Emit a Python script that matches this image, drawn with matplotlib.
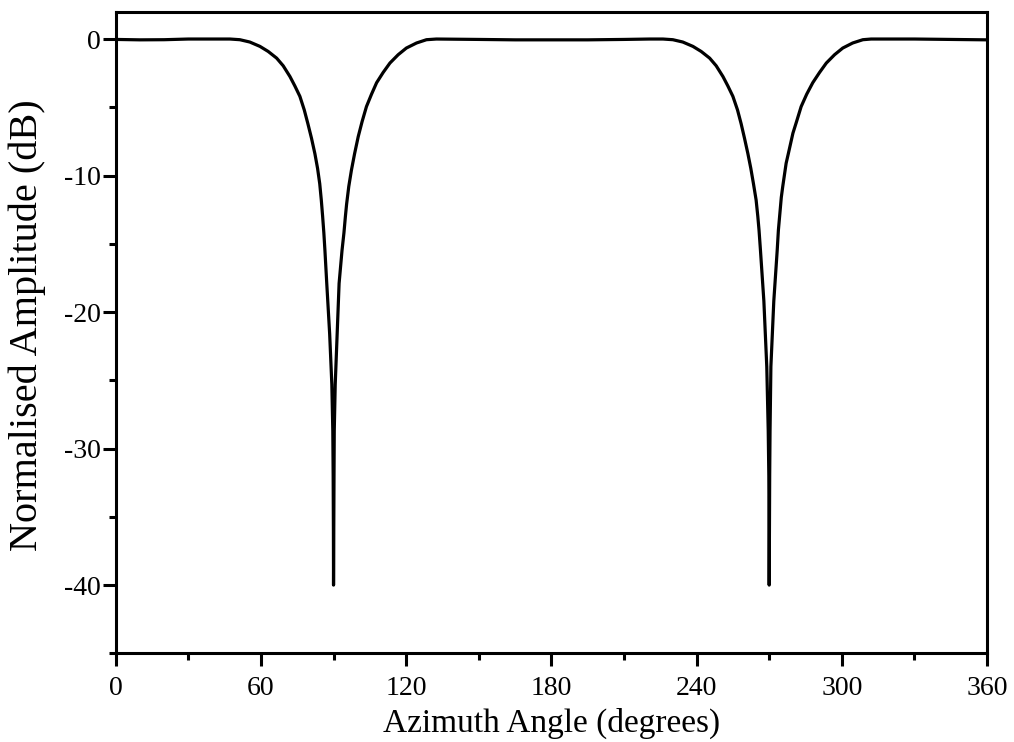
import matplotlib
matplotlib.use("Agg")
import matplotlib.pyplot as plt
from matplotlib.ticker import MultipleLocator

plt.rcParams['font.family'] = ['Liberation Serif', 'DejaVu Serif']

# Azimuth angle (degrees) and normalised amplitude (dB)
azimuth = [
    0, 10, 20, 30, 43.1, 47.2, 51.3, 55.4, 59.6, 63.0, 66.5, 69.2, 72.0, 74.0,
    76.1, 77.9, 79.4, 80.9, 82.3, 83.4, 84.3, 84.95, 85.5, 86.0, 86.45, 87.2,
    88.4, 89.3, 89.7, 89.85, 89.95, 90.0, 90.1, 90.2, 90.3, 90.7, 91.5, 92.3,
    93.5, 94.3, 94.9, 95.4, 96.3, 97.4, 98.7, 100.2, 101.8, 103.6, 105.7,
    107.8, 110.5, 113.3, 116.7, 120.1, 124.3, 128.4, 132.5, 150, 165, 180,
    195, 210,
    220.6, 226.1, 230.2, 234.3, 238.5, 241.9, 245.4, 248.1, 250.9, 252.9,
    255.0, 256.9, 258.4, 259.8, 261.2, 262.4, 263.5, 264.6, 265.3, 265.8,
    266.4, 267.8, 269.0, 269.6, 269.85, 269.95, 270.0, 270.1, 270.2, 270.35,
    270.7, 271.9, 273.3, 273.8, 274.3, 275.0, 275.6, 277.0, 277.9, 279.8,
    281.3, 283.2, 285.5, 288.0, 290.8, 293.6, 297.0, 300.4, 304.5, 308.7,
    312.1, 330, 345, 360,
]
amplitude_db = [
    -0.03, -0.06, -0.05, 0.0, 0.0, 0.0, -0.05, -0.22, -0.54, -0.91, -1.4,
    -1.96, -2.75, -3.43, -4.2, -5.19, -6.2, -7.27, -8.4, -9.47, -10.6, -11.8,
    -13.0, -14.2, -15.5, -17.9, -21.6, -25.3, -28.7, -32.0, -36.0, -40.0,
    -36.0, -32.0, -28.7, -25.3, -21.6, -17.9, -15.5, -14.2, -13.0, -12.1,
    -10.8, -9.6, -8.4, -7.15, -6.05, -4.95, -4.04, -3.2, -2.45, -1.76, -1.15,
    -0.66, -0.29, -0.05, 0.0, -0.03, -0.06, -0.06, -0.06, -0.03,
    0.0, 0.0, -0.05, -0.22, -0.54, -0.91, -1.4, -1.96, -2.75, -3.43, -4.2,
    -5.19, -6.2, -7.27, -8.4, -9.47, -10.6, -11.8, -13.0, -14.0, -15.5,
    -19.2, -24.0, -28.7, -32.0, -36.0, -40.0, -36.0, -32.0, -28.7, -24.0,
    -19.2, -15.5, -14.0, -13.0, -11.6, -10.8, -9.1, -8.4, -6.9, -6.05,
    -4.95, -4.04, -3.2, -2.45, -1.76, -1.15, -0.66, -0.29, -0.05, 0.0,
    0.0, -0.03, -0.06,
]

x_ticks = [0, 60, 120, 180, 240, 300, 360]
y_ticks = [0, -10, -20, -30, -40]

fig = plt.figure(figsize=(10.14, 7.42), dpi=100)
ax = fig.add_axes([0.1141, 0.1195, 0.8593, 0.8647])

ax.plot(azimuth, amplitude_db, color='black', lw=2.3,
        solid_joinstyle='round', solid_capstyle='round')

ax.set_xlim(0, 360)
ax.set_ylim(-45, 2)
ax.set_xticks(x_ticks)
ax.set_yticks(y_ticks)
ax.set_xticklabels([str(v) for v in x_ticks])
ax.set_yticklabels([str(v) for v in y_ticks])
ax.xaxis.set_minor_locator(MultipleLocator(30))
ax.yaxis.set_minor_locator(MultipleLocator(5))

for s in ax.spines.values():
    s.set_linewidth(2.2)

ax.tick_params(which='major', direction='out', length=9.5, width=2.2,
               labelsize=20, colors='black')
ax.tick_params(which='minor', direction='out', length=5, width=2.2)
ax.tick_params(axis='x', which='major', pad=6.5)
ax.tick_params(axis='y', which='major', pad=1)
ax.tick_params(top=False, right=False, which='both')

ax.set_xlabel('Azimuth Angle (degrees)', fontsize=24, labelpad=5)
ax.set_ylabel('Normalised Amplitude (dB)', fontsize=29, labelpad=13)
ax.yaxis.label.set_y(0.512)

fig.savefig('out.png', dpi=100)
